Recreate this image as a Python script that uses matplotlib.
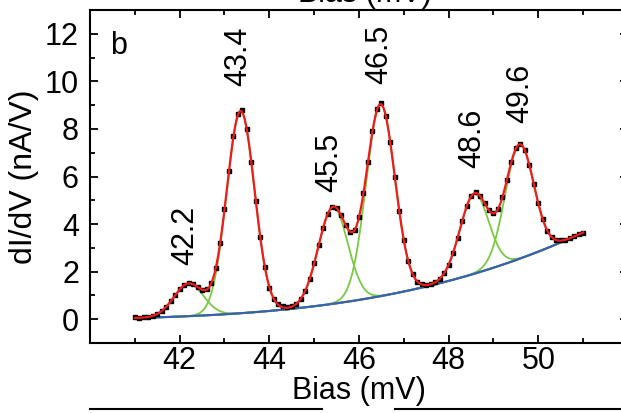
import numpy as np
import matplotlib
matplotlib.use("Agg")
from matplotlib import pyplot as plt
from matplotlib.lines import Line2D
from matplotlib.ticker import MultipleLocator

plt.rcParams['font.family'] = ['Liberation Sans', 'DejaVu Sans']

# measured dI/dV points (nA/V), 41.0 ... 51.0 mV in 0.1 mV steps
bias = np.linspace(41.0, 51.0, 101)
didv = [0.08, 0.07, 0.09, 0.11, 0.15, 0.23, 0.35, 0.53, 0.77, 1.02,
        1.27, 1.44, 1.52, 1.47, 1.34, 1.22, 1.26, 1.52, 2.15, 3.20,
        4.62, 6.25, 7.70, 8.62, 8.78, 7.98, 6.60, 4.98, 3.44, 2.20,
        1.30, 0.86, 0.63, 0.54, 0.52, 0.57, 0.66, 0.86, 1.20, 1.70,
        2.35, 3.11, 3.84, 4.42, 4.72, 4.68, 4.37, 3.96, 3.66, 3.76,
        4.30, 5.32, 6.62, 7.92, 8.82, 9.08, 8.54, 7.43, 5.98, 4.54,
        3.31, 2.43, 1.88, 1.58, 1.46, 1.44, 1.48, 1.56, 1.70, 1.94,
        2.30, 2.80, 3.43, 4.12, 4.74, 5.17, 5.33, 5.19, 4.88, 4.58,
        4.47, 4.64, 5.14, 5.87, 6.62, 7.18, 7.37, 7.10, 6.48, 5.68,
        4.87, 4.20, 3.72, 3.45, 3.34, 3.32, 3.35, 3.41, 3.49, 3.57, 3.64]

# fit parameters
peak_center = [42.20, 43.36, 45.42, 46.48, 48.57, 49.58]
peak_height = [1.37, 8.50, 4.05, 8.05, 3.35, 4.79]
peak_sigma = [0.33, 0.31, 0.33, 0.32, 0.32, 0.32]
peak_labels = ['42.2', '43.4', '45.5', '46.5', '48.6', '49.6']
label_x = [42.12, 43.30, 45.33, 46.45, 48.52, 49.60]
label_y = [2.3, 9.8, 5.35, 9.9, 6.35, 8.25]
# background polynomial in (V - 41 mV)
bg_coef = [0.05, 0.05, 0.010, 0.0021]

xf = np.linspace(41.0, 51.0, 600)
t = xf - 41.0
bg = bg_coef[0] + bg_coef[1]*t + bg_coef[2]*t**2 + bg_coef[3]*t**3

fig = plt.figure(figsize=(6.21, 4.13), dpi=100)
ax = fig.add_axes([90/621, 1 - 343/413, 538/621, 333/413])

total = bg.copy()
for c, h, s in zip(peak_center, peak_height, peak_sigma):
    g = h*np.exp(-(xf - c)**2/(2*s**2))
    total += g
    ax.plot(xf, bg + g, color='#7ac943', lw=1.3, zorder=2)
ax.plot(xf, bg, color='#3b5fb5', lw=1.6, zorder=3)
ax.plot(bias, didv, 's', color='black', ms=3.2, zorder=4)
ax.plot(xf, total, color='#ee1c1c', lw=1.6, zorder=5)

for lx, ly, lab in zip(label_x, label_y, peak_labels):
    ax.text(lx, ly, lab, rotation=90, ha='center', va='bottom', fontsize=22)
ax.text(40.45, 11.5, 'b', fontsize=22, va='center')

ax.set_xlim(40, 52)
ax.set_ylim(-1, 13)
ax.xaxis.set_minor_locator(MultipleLocator(1))
ax.yaxis.set_major_locator(MultipleLocator(2))
ax.yaxis.set_minor_locator(MultipleLocator(1))
ax.set_xticks([42, 44, 46, 48, 50])
ax.tick_params(which='both', direction='in', top=True, right=True,
               labelsize=22, width=1.3)
ax.tick_params(which='major', length=6)
ax.tick_params(which='minor', length=3.5)
ax.tick_params(axis='y', pad=8)
ax.tick_params(axis='x', pad=2)
for sp in ax.spines.values():
    sp.set_linewidth(1.5)
ax.set_xlabel('Bias (mV)', fontsize=22, labelpad=0)
ax.set_ylabel('dI/dV (nA/V)', fontsize=23, labelpad=4)

# pieces of the neighbouring panels
fig.text(365/621, 1.014, 'Bias (mV)', fontsize=22, ha='center', va='center')
fig.add_artist(Line2D([90/621, 322/621], [1 - 409/413]*2, color='black', lw=1.5))
fig.add_artist(Line2D([395/621, 1.0], [1 - 409/413]*2, color='black', lw=1.5))

fig.savefig('out.png', dpi=100)
